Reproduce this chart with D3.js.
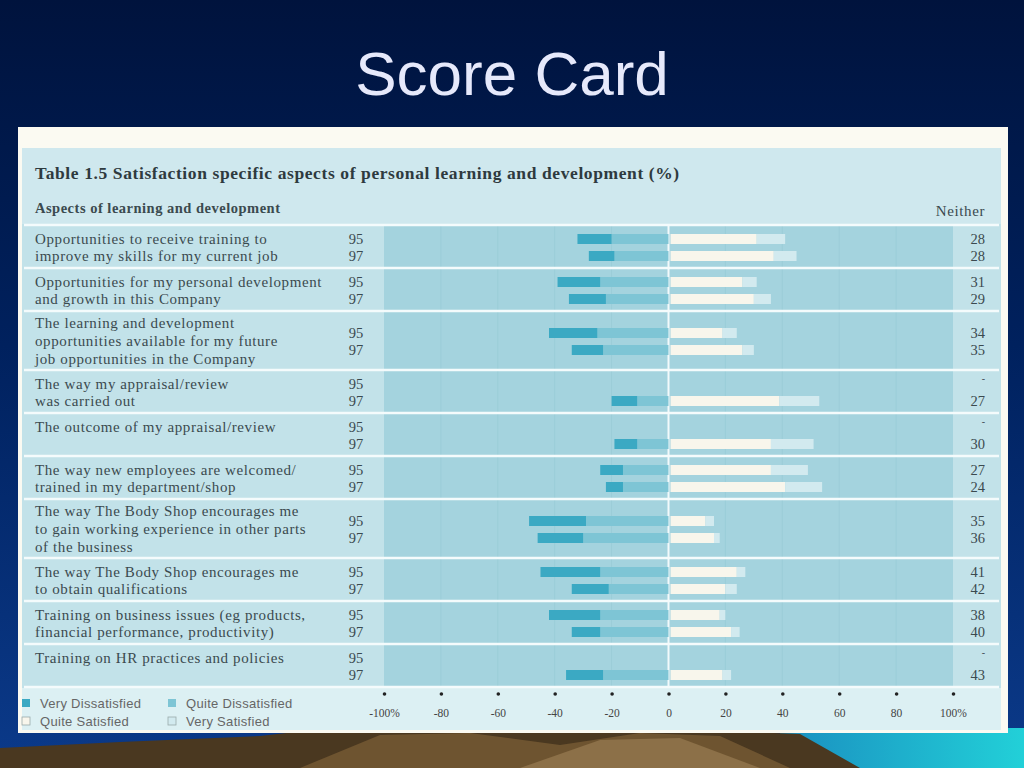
<!DOCTYPE html>
<html><head><meta charset="utf-8">
<script src="https://cdn.jsdelivr.net/npm/d3@7"></script>
<style>html,body{margin:0;padding:0;background:#00143f;}svg{display:block;}</style>
</head><body>
<svg id="c" width="1024" height="768"></svg>
<script>
// ---------------- data ----------------
const slideTitle = "Score Card";
const tableTitle = "Table 1.5  Satisfaction specific aspects of personal learning and development (%)";
const columnHeader = "Aspects of learning and development";
const neitherHeader = "Neither";
const aspects = [
  ["Opportunities to receive training to", "improve my skills for my current job"],
  ["Opportunities for my personal development", "and growth in this Company"],
  ["The learning and development", "opportunities available for my future", "job opportunities in the Company"],
  ["The way my appraisal/review", "was carried out"],
  ["The outcome of my appraisal/review"],
  ["The way new employees are welcomed/", "trained in my department/shop"],
  ["The way The Body Shop encourages me", "to gain working experience in other parts", "of the business"],
  ["The way The Body Shop encourages me", "to obtain qualifications"],
  ["Training on business issues (eg products,", "financial performance, productivity)"],
  ["Training on HR practices and policies"]
];
const years = ["95", "97"];
// [1995, 1997] values in %, null = not asked
const veryDissatisfied  = [[12, 9], [15, 13], [17, 11], [null, 9],  [null, 8],  [8, 6],   [20, 16], [21, 13], [18, 10], [null, 13]];
const quiteDissatisfied = [[20, 19], [24, 22], [25, 23], [null, 11], [null, 11], [16, 16], [29, 30], [24, 21], [24, 24], [null, 23]];
const quiteSatisfied    = [[31, 37], [26, 30], [19, 26], [null, 39], [null, 36], [36, 41], [13, 16], [24, 20], [18, 22], [null, 19]];
const verySatisfied     = [[10, 8],  [5, 6],   [5, 4],   [null, 14], [null, 15], [13, 13], [3, 2],   [3, 4],   [2, 3],   [null, 3]];
const neither           = [[28, 28], [31, 29], [34, 35], [null, 27], [null, 30], [27, 24], [35, 36], [41, 42], [38, 40], [null, 43]];
const tickValues = [-100, -80, -60, -40, -20, 0, 20, 40, 60, 80, 100];
const tickLabels = ["-100%", "-80", "-60", "-40", "-20", "0", "20", "40", "60", "80", "100%"];
const legendItems = ["Very Dissatisfied", "Quite Dissatisfied", "Quite Satisfied", "Very Satisfied"];

// ---------------- styles ----------------
const C = {
  vd: "#3ba9c3", qd: "#7ec5d5", qs: "#f8f6ec", vs: "#d2eaef",
  panel: "#a4d3de", labelBg: "#c2e2e9", headerBg: "#cfe8ee", footBg: "#dcf0f3",
  text: "#3b4a4f"
};
const serif = "'Liberation Serif','DejaVu Serif',serif";
const sans = "'Liberation Sans','DejaVu Sans',sans-serif";

const svg = d3.select("#c");
const defs = svg.append("defs");
const bg = defs.append("linearGradient").attr("id", "bg").attr("x1", 0).attr("y1", 0).attr("x2", 0).attr("y2", 1);
bg.append("stop").attr("offset", "0").attr("stop-color", "#00133d");
bg.append("stop").attr("offset", "0.45").attr("stop-color", "#00215e");
bg.append("stop").attr("offset", "1").attr("stop-color", "#0b3a8a");
svg.append("rect").attr("width", 1024).attr("height", 768).attr("fill", "url(#bg)");

// bottom landscape
const cy = defs.append("linearGradient").attr("id", "cy").attr("x1", 0).attr("y1", 0).attr("x2", 1).attr("y2", 0);
cy.append("stop").attr("offset", "0").attr("stop-color", "#1a8fc0");
cy.append("stop").attr("offset", "1").attr("stop-color", "#22d0d8");
svg.append("rect").attr("x", 780).attr("y", 728).attr("width", 244).attr("height", 40).attr("fill", "url(#cy)");
svg.append("path").attr("d", "M0,768 L0,748 L120,742 L260,736 L330,728 L420,730 L560,728 L700,730 L800,734 L860,768 Z").attr("fill", "#4a3820");
svg.append("path").attr("d", "M300,768 L380,735 L470,733 L560,745 L640,733 L720,736 L790,768 Z").attr("fill", "#6e5430");
svg.append("path").attr("d", "M520,768 L600,740 L680,738 L760,768 Z").attr("fill", "#8c7048");

// title
svg.append("text").attr("x", 512).attr("y", 95).attr("text-anchor", "middle")
  .attr("font-family", sans).attr("font-size", 62).attr("fill", "#e6e9fb").text(slideTitle);

// frame
svg.append("rect").attr("x", 18).attr("y", 127).attr("width", 990).attr("height", 606).attr("fill", "#fbfaf2");
svg.append("rect").attr("x", 22).attr("y", 148).attr("width", 979).attr("height", 582).attr("fill", C.footBg);
svg.append("rect").attr("x", 22).attr("y", 148).attr("width", 979).attr("height", 76).attr("fill", C.headerBg);

const g = svg.append("g");
g.append("text").attr("x", 35).attr("y", 179).attr("font-family", serif).attr("font-weight", "bold")
  .attr("font-size", 17.5).attr("letter-spacing", 0.6).attr("fill", "#2e3a3e").text(tableTitle);
g.append("text").attr("x", 35).attr("y", 213).attr("font-family", serif).attr("font-weight", "bold")
  .attr("font-size", 14.5).attr("letter-spacing", 0.5).attr("fill", C.text).text(columnHeader);
g.append("text").attr("x", 985).attr("y", 216).attr("text-anchor", "end").attr("font-family", serif)
  .attr("font-size", 15).attr("letter-spacing", 0.6).attr("fill", C.text).text(neitherHeader);

// scales
const x = d3.scaleLinear().domain([-100, 100]).range([384, 953]);
const rowH = aspects.map(a => a.length > 2 ? 59 : 43);
const rowTop = [];
let acc = 226;
rowH.forEach(h => { rowTop.push(acc); acc += h; });
const bodyBottom = acc;

// label + neither backgrounds
g.append("rect").attr("x", 22).attr("y", 224).attr("width", 979).attr("height", bodyBottom - 224).attr("fill", C.labelBg);
g.append("rect").attr("x", x(-100)).attr("y", 224).attr("width", x(100) - x(-100)).attr("height", bodyBottom - 224).attr("fill", C.panel);

// faint gridlines
g.selectAll("line.grid").data(tickValues.filter(v => v !== 0 && Math.abs(v) !== 100)).join("line")
  .attr("x1", d => x(d)).attr("x2", d => x(d)).attr("y1", 224).attr("y2", bodyBottom)
  .attr("stroke", "#9bcdd8").attr("stroke-width", 1);

// center line
g.append("line").attr("x1", x(0)).attr("x2", x(0)).attr("y1", 224).attr("y2", bodyBottom)
  .attr("stroke", "#f2fafb").attr("stroke-width", 2);

// row separators
g.selectAll("line.sep").data(rowTop.concat([bodyBottom])).join("line")
  .attr("x1", 24).attr("x2", 999).attr("y1", d => d - 1).attr("y2", d => d - 1)
  .attr("stroke", "#f4fbfc").attr("stroke-width", 2.5);

const barH = 10;
aspects.forEach((lines, i) => {
  const cyRow = rowTop[i] + rowH[i] / 2;
  const yPos = [cyRow - 8.5, cyRow + 8.5];
  const lineYs = lines.length === 3 ? [cyRow - 18, cyRow, cyRow + 18]
               : lines.length === 2 ? yPos : [yPos[0]];
  lines.forEach((t, j) => {
    g.append("text").attr("x", 35).attr("y", lineYs[j] + 4.5).attr("font-family", serif)
      .attr("font-size", 15).attr("letter-spacing", 0.6).attr("fill", C.text).text(t);
  });
  years.forEach((yr, k) => {
    const yy = yPos[k];
    g.append("text").attr("x", 356).attr("y", yy + 4.5).attr("text-anchor", "middle").attr("font-family", serif)
      .attr("font-size", 14.5).attr("fill", C.text).text(yr);
    const nv = neither[i][k];
    g.append("text").attr("x", 985).attr("y", nv === null ? yy - 2 : yy + 4.5).attr("text-anchor", "end")
      .attr("font-family", serif).attr("font-size", nv === null ? 10 : 14.5).attr("fill", C.text)
      .text(nv === null ? "-" : nv);
    if (quiteDissatisfied[i][k] === null) return;
    const qd = quiteDissatisfied[i][k], vd = veryDissatisfied[i][k];
    const qs = quiteSatisfied[i][k], vs = verySatisfied[i][k];
    const segs = [
      [-qd, 0, C.qd], [-qd - vd, -qd, C.vd], [0, qs, C.qs], [qs, qs + vs, C.vs]
    ];
    g.selectAll(null).data(segs).join("rect")
      .attr("x", d => x(d[0]) + (d[0] === 0 ? 2 : 0))
      .attr("width", d => x(d[1]) - x(d[0]) - (d[0] === 0 ? 2 : 0))
      .attr("y", yy - barH / 2).attr("height", barH).attr("fill", d => d[2]);
  });
});

// axis
const axis = d3.axisBottom(x).tickValues(tickValues).tickFormat((d, i) => tickLabels[i]).tickSize(0).tickPadding(0);
const ax = g.append("g").attr("transform", `translate(0,${bodyBottom + 6})`).call(axis);
ax.select(".domain").remove();
ax.selectAll(".tick text").attr("y", 23).attr("dy", 0).attr("font-family", serif).attr("font-size", 11.5).attr("fill", "#444");
ax.selectAll(".tick").append("circle").attr("r", 1.8).attr("cy", 0).attr("fill", "#222");

// legend
const legendColors = [C.vd, C.qd, C.qs, C.vs];
const lg = g.append("g");
legendItems.forEach((t, i) => {
  const lx = i % 2 === 0 ? 22 : 168;
  const ly = i < 2 ? 699 : 717;
  lg.append("rect").attr("x", lx).attr("y", ly).attr("width", 8).attr("height", 8)
    .attr("fill", legendColors[i]).attr("stroke", i >= 2 ? "#9aa" : "none").attr("stroke-width", 0.8);
  lg.append("text").attr("x", lx + 18).attr("y", ly + 9).attr("font-family", sans).attr("font-size", 13)
    .attr("letter-spacing", 0.3).attr("fill", "#666").text(t);
});
</script>
</body></html>
